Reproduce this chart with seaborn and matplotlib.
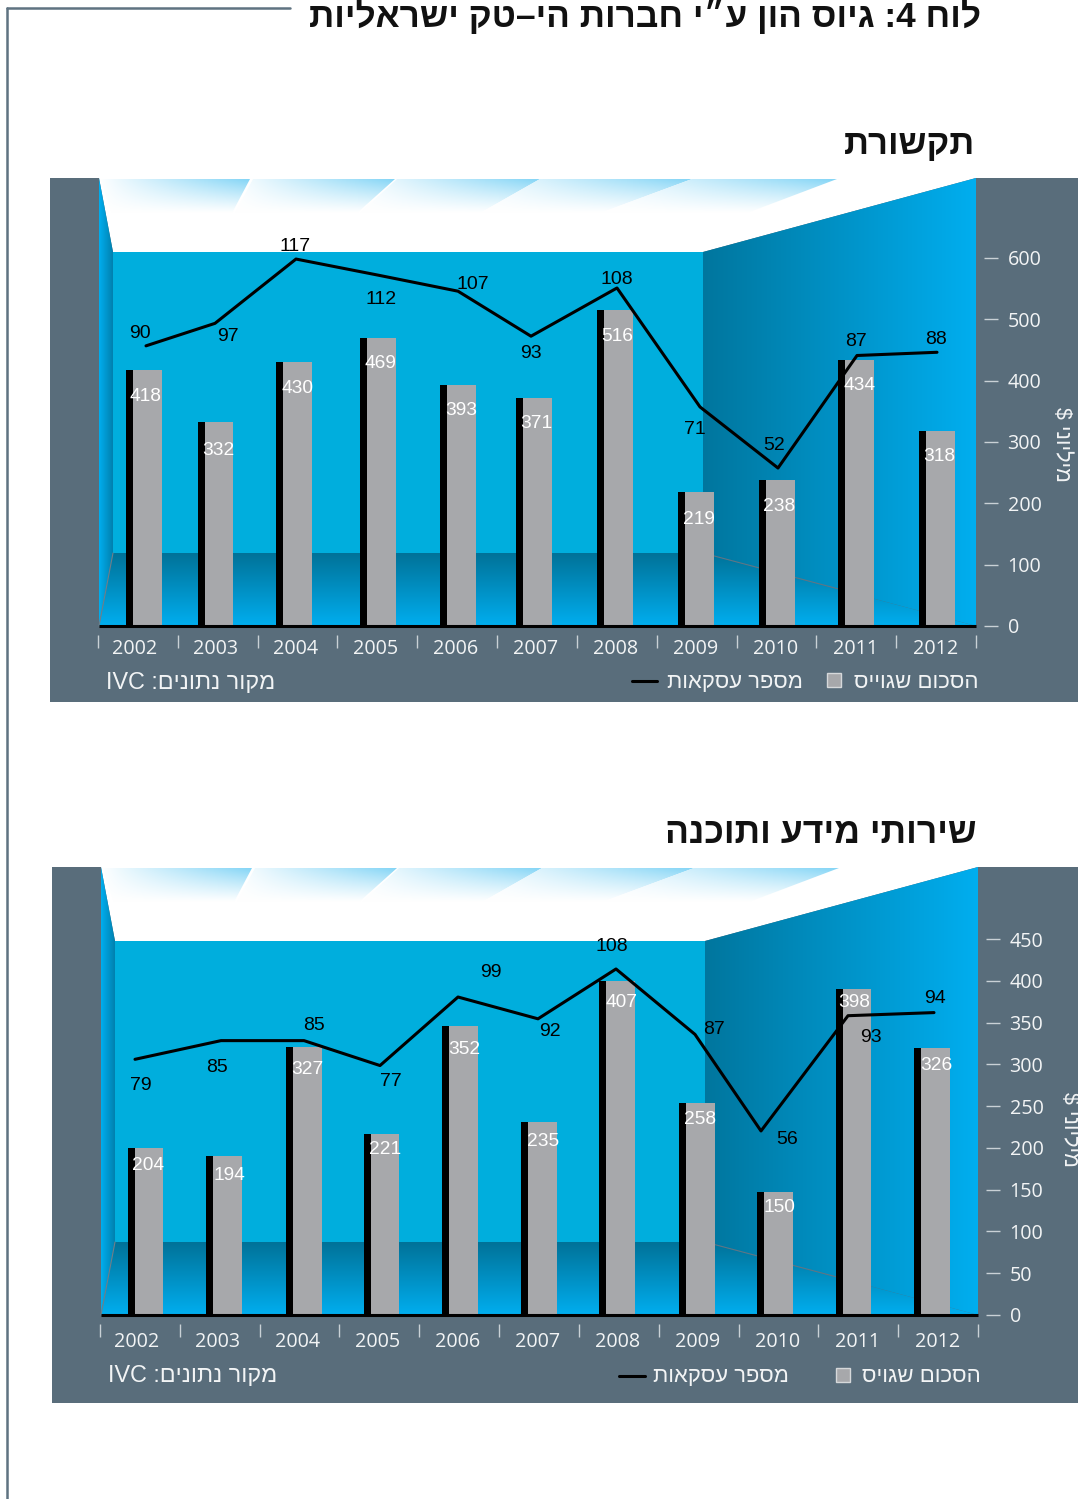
import re
import numpy as np
import matplotlib
matplotlib.use("Agg")
import matplotlib.pyplot as plt
from matplotlib.patches import Polygon, Rectangle
from matplotlib.colors import to_rgb
import seaborn as sns

# ---------- data ----------
years = [2002, 2003, 2004, 2005, 2006, 2007, 2008, 2009, 2010, 2011, 2012]
comm_amount = [418, 332, 430, 469, 393, 371, 516, 219, 238, 434, 318]
comm_deals = [90, 97, 117, 112, 107, 93, 108, 71, 52, 87, 88]
it_amount = [204, 194, 327, 221, 352, 235, 407, 258, 150, 398, 326]
it_deals = [79, 85, 85, 77, 99, 92, 108, 87, 56, 93, 94]
comm_ticks = [0, 100, 200, 300, 400, 500, 600]
it_ticks = [0, 50, 100, 150, 200, 250, 300, 350, 400, 450]

title_text = "לוח 4: גיוס הון ע״י חברות הי–טק ישראליות"
comm_title = "תקשורת"
it_title = "שירותי מידע ותוכנה"
source_text = "מקור נתונים: IVC"
deals_legend = "מספר עסקאות"
comm_amount_legend = "הסכום שגוייס"
it_amount_legend = "הסכום שגויס"
unit_text = "מיליוני $"

# ---------- layout (pixels) ----------
W, H = 1078, 1499
comm_layout = dict(
    dx=0, dy=0, panel=(50, 178, 1078, 702), base=626, top_tick=(600, 258),
    bar_scale=368 / 600, line_scale=3.215, line_zero=635.2, tick_top=635,
    pad=3.0, label_dy=2, legend_dy=2, square_x=827, amount_right=978,
    line_x0=632, line_x1=657, deals_right=803, source_x=106, title_right=975, title_size=25,
    bar_gray_px=[147.5, 219, 297.5, 381, 461.5, 537.5, 618.5, 699.5, 780, 859.5, 940],
    line_px=[146, 215, 296, 378, 458, 531, 617, 700, 778, 857, 937],
    bar_label_px=[(146, 396), (218, 450), (297, 388), (380, 363), (461, 410), (536, 423),
                  (617, 336), (699, 519), (779, 506), (859, 385), (939, 456)],
    deal_label_px=[(140, 333), (228, 336), (295, 246), (381, 299), (473, 284), (531, 353),
                   (617, 279), (695, 429), (774, 445), (856, 341), (936, 339)],
    unit_xy=(1062, 444),
)
it_layout = dict(
    dx=2, dy=689, panel=(52, 867, 1078, 1403), base=1315, top_tick=(450, 939),
    bar_scale=0.82, line_scale=3.115, line_zero=1305.4, tick_top=1324,
    pad=5.5, label_dy=6, legend_dy=8, square_x=836, amount_right=981,
    line_x0=619, line_x1=645, deals_right=789, source_x=108, title_right=977, title_size=25.6,
    bar_gray_px=[149, 227.5, 307, 385, 463.5, 542.5, 620.5, 700, 778, 857, 935.5],
    line_px=[135, 221, 304, 380, 458, 538, 616, 695, 761, 848, 934],
    bar_label_px=[(148, 1165), (229, 1176), (307, 1069), (385, 1149), (464, 1049), (543, 1141),
                  (621, 1002), (700, 1120), (779, 1207), (854, 1002), (936, 1065)],
    deal_label_px=[(141, 1085), (217, 1067), (314, 1025), (391, 1081), (491, 972), (550, 1032),
                   (612, 946), (714, 1029), (787, 1139), (871, 1037), (935, 998)],
    unit_xy=(1070, 1129),
)

PANEL = "#596D7B"
GRAY = "#A7A8AB"
WALL = "#00AEDD"
BRIGHT = "#00AEEF"
DARK = "#00769E"
LIGHT_TXT = "#F2F4F5"
TICK = "#C9D1D6"
PX_PER_YEAR = 80.1
GRAY_W = 29
BLACK_W = 7

sns.set_theme(style="white")
plt.rcParams["font.family"] = ["Open Sans", "Liberation Sans", "DejaVu Sans"]
NARROW = ["Liberation Sans Narrow", "Liberation Sans", "DejaVu Sans"]
HEB = ["Liberation Sans", "DejaVu Sans"]


def visual(s):
    """Right-to-left string to left-to-right drawing order; number and Latin runs stay intact."""
    return "".join(reversed(re.findall(r"[A-Za-z0-9]+|.", s)))


fig = plt.figure(figsize=(W / 100, H / 100), dpi=100, facecolor="white")
bg = fig.add_axes([0, 0, 1, 1], zorder=0)
bg.set_axis_off()


def gradient(poly, c0, c1, horizontal=True, box=None):
    xs, ys = zip(*poly)
    x0, x1, y0, y1 = box or (min(xs), max(xs), min(ys), max(ys))
    t = np.linspace(0, 1, 256)
    t = t[None, :] if horizontal else t[:, None]
    c0, c1 = np.array(to_rgb(c0)), np.array(to_rgb(c1))
    img = c0[None, None, :] + t[:, :, None] * (c1 - c0)[None, None, :]
    im = bg.imshow(img, extent=(x0, x1, y1, y0), origin="upper", aspect="auto", zorder=2)
    im.set_clip_path(Polygon(poly, closed=True, transform=bg.transData))


def streak(poly):
    xs, ys = zip(*poly)
    x0, x1, y0, y1 = min(xs), max(xs), min(ys), max(ys)
    u = np.linspace(0, 1, 256)
    v = np.linspace(1, 0, 64)
    t = (u[None, :] ** 0.9 * v[:, None] ** 1.1)[:, :, None]
    c0, c1 = np.array([1.0, 1.0, 1.0]), np.array(to_rgb("#84D5F6"))
    img = c0[None, None, :] + t * (c1 - c0)[None, None, :]
    im = bg.imshow(img, extent=(x0, x1, y1, y0), origin="upper", aspect="auto", zorder=3)
    im.set_clip_path(Polygon(poly, closed=True, transform=bg.transData))


def draw_room(L):
    dx, dy = L["dx"], L["dy"]
    px0, py0, px1, py1 = L["panel"]
    P = lambda x, y: (x + dx, y + dy)
    bg.add_patch(Rectangle((px0, py0), px1 - px0, py1 - py0, fc=PANEL, ec="none", zorder=1))
    # ceiling
    bg.add_patch(Polygon([P(99, 178), P(976, 178), P(703, 252), P(113, 252)], fc="white", ec="none", zorder=2))
    for tl, tr, br, bl in [(100, 250, 232, 112), (253, 395, 357, 235), (397, 540, 480, 360),
                           (540, 692, 600, 480), (692, 837, 747, 600)]:
        streak([P(tl, 179), P(tr, 179), P(br, 213), P(bl, 213)])
    # back wall, right wall, left wall, floor
    bg.add_patch(Rectangle(P(113, 252), 590, 302, fc=WALL, ec="none", zorder=2))
    gradient([P(703, 252), P(976, 178), P(976, 626), P(703, 553)], DARK, BRIGHT)
    gradient([P(99, 178), P(113, 252), P(113, 553), P(99, 626)], BRIGHT, "#0080AE")
    gradient([P(99, 626), P(113, 553), P(703, 553), P(976, 626)], "#007298", BRIGHT, horizontal=False)
    bg.plot([P(703, 553)[0], P(850, 592)[0]], [P(703, 553)[1], P(850, 592)[1]], color="#5E7686", lw=0.8, zorder=4)
    bg.plot([P(113, 553)[0], P(99, 626)[0]], [P(113, 553)[1], P(99, 626)[1]], color="#6F7F8A", lw=0.8, zorder=4)


def draw_chart(L, amount, deals, ticks, chart_title, amount_legend):
    dx, dy = L["dx"], L["dy"]
    draw_room(L)

    left_px, right_px = 98 + dx, 984 + dx
    top_px, bottom_px = L["panel"][1], L["tick_top"]
    centre0 = 135 + dx
    to_year = lambda p: 2002 + (np.asarray(p, dtype=float) - centre0) / PX_PER_YEAR
    rect = [left_px / W, 1 - bottom_px / H, (right_px - left_px) / W, (bottom_px - top_px) / H]

    def ylim_for(zero_px, scale):
        return (zero_px - bottom_px) / scale, (zero_px - top_px) / scale

    # bars
    ax = fig.add_axes(rect, zorder=2, facecolor="none")
    gray_x = to_year(L["bar_gray_px"])
    black_x = gray_x - (GRAY_W + BLACK_W) / 2 / PX_PER_YEAR
    step = np.diff(gray_x).min()
    sns.barplot(x=gray_x, y=amount, native_scale=True, orient="x", color=GRAY, saturation=1,
                width=GRAY_W / PX_PER_YEAR / step, errorbar=None, linewidth=0, ax=ax)
    sns.barplot(x=black_x, y=amount, native_scale=True, orient="x", color="black", saturation=1,
                width=BLACK_W / PX_PER_YEAR / step, errorbar=None, linewidth=0, ax=ax)
    ax.set_xlim(to_year(left_px), to_year(right_px))
    ax.set_ylim(*ylim_for(L["base"], L["bar_scale"]))
    ax.set_frame_on(False)
    ax.set_yticks([])
    ax.set_xlabel("")
    ax.set_ylabel("")
    ax.set_xticks(to_year(np.linspace(98 + dx, 976 + dx, 12)), labels=[])
    ax.set_xticks(years, labels=[str(y) for y in years], minor=True)
    ax.tick_params(axis="x", which="major", direction="out", bottom=True, length=9.6, width=1, color=TICK)
    ax.tick_params(axis="x", which="minor", bottom=True, length=0, pad=L["pad"], labelsize=14.2,
                   labelcolor=LIGHT_TXT)
    ax.hlines(0, to_year(99 + dx), to_year(976 + dx), color="black", lw=2.2, zorder=5)

    # dollar axis on the right
    tax = fig.add_axes(rect, zorder=3, facecolor="none", sharex=ax)
    tax.set_frame_on(False)
    tax.set_ylim(*ylim_for(L["base"], (L["base"] - L["top_tick"][1]) / L["top_tick"][0]))
    tax.yaxis.tick_right()
    tax.set_yticks(ticks, labels=[str(t) for t in ticks])
    tax.tick_params(axis="y", right=True, length=10, width=1, color=TICK, pad=7, labelsize=14.2,
                    labelcolor=LIGHT_TXT)
    tax.tick_params(axis="x", which="both", bottom=False, labelbottom=False)
    tax.patch.set_visible(False)

    # deals line
    lax = fig.add_axes(rect, zorder=4, facecolor="none", sharex=ax)
    lax.set_frame_on(False)
    sns.lineplot(x=to_year(L["line_px"]), y=deals, sort=False, errorbar=None, color="black", lw=2.2, ax=lax)
    lax.set_xlim(to_year(left_px), to_year(right_px))
    lax.set_ylim(*ylim_for(L["line_zero"], L["line_scale"]))
    lax.set_yticks([])
    lax.set_xlabel("")
    lax.set_ylabel("")
    lax.tick_params(axis="x", which="both", bottom=False, labelbottom=False)

    txt = fig.add_axes([0, 0, 1, 1], zorder=5, facecolor="none")
    txt.set_axis_off()
    txt.set_xlim(0, W)
    txt.set_ylim(H, 0)
    for (xp, yp), v in zip(L["bar_label_px"], amount):
        txt.text(xp, yp, str(v), ha="center", va="center", color="white", fontsize=13.8, family=NARROW)
    for (xp, yp), v in zip(L["deal_label_px"], deals):
        txt.text(xp, yp, str(v), ha="center", va="center", color="black", fontsize=14, family=NARROW)

    # subtitle, source, legend, unit
    txt.text(L["title_right"], 144 + dy, visual(chart_title), ha="right", va="center", fontsize=L["title_size"],
             fontweight="bold", color="#111111", family=HEB)
    ly = 680 + dy + L["label_dy"]
    txt.text(L["source_x"], ly, visual(source_text), ha="left", va="center", fontsize=16.8, color=LIGHT_TXT, family=HEB)
    ly2 = 680 + dy + L["legend_dy"]
    txt.text(L["amount_right"], ly2, visual(amount_legend), ha="right", va="center", fontsize=16,
             color=LIGHT_TXT, family=HEB)
    txt.add_patch(Rectangle((L["square_x"], ly2 - 9), 14, 14, fc=GRAY, ec="#D5D8DA", lw=1))
    txt.plot([L["line_x0"], L["line_x1"]], [ly2 - 1, ly2 - 1], color="black", lw=2.2)
    txt.text(L["deals_right"], ly2, visual(deals_legend), ha="right", va="center", fontsize=15.8,
             color=LIGHT_TXT, family=HEB)
    txt.text(L["unit_xy"][0], L["unit_xy"][1], visual(unit_text), ha="center", va="center", rotation=-90,
             fontsize=15.5, color=LIGHT_TXT, family=HEB)
    return txt


draw_chart(comm_layout, comm_amount, comm_deals, comm_ticks, comm_title, comm_amount_legend)
txt = draw_chart(it_layout, it_amount, it_deals, it_ticks, it_title, it_amount_legend)

# frame rule and main title
bg.plot([7, 290], [8, 8], color="#5F7381", lw=1.8, zorder=5)
bg.plot([7, 7], [8, H], color="#5F7381", lw=1.8, zorder=5)
txt.text(981, 16, visual(title_text), ha="right", va="center", fontsize=25.4, fontweight="bold",
         color="#111111", family=HEB)

bg.set_xlim(0, W)
bg.set_ylim(H, 0)
fig.savefig("out.png", dpi=100)
